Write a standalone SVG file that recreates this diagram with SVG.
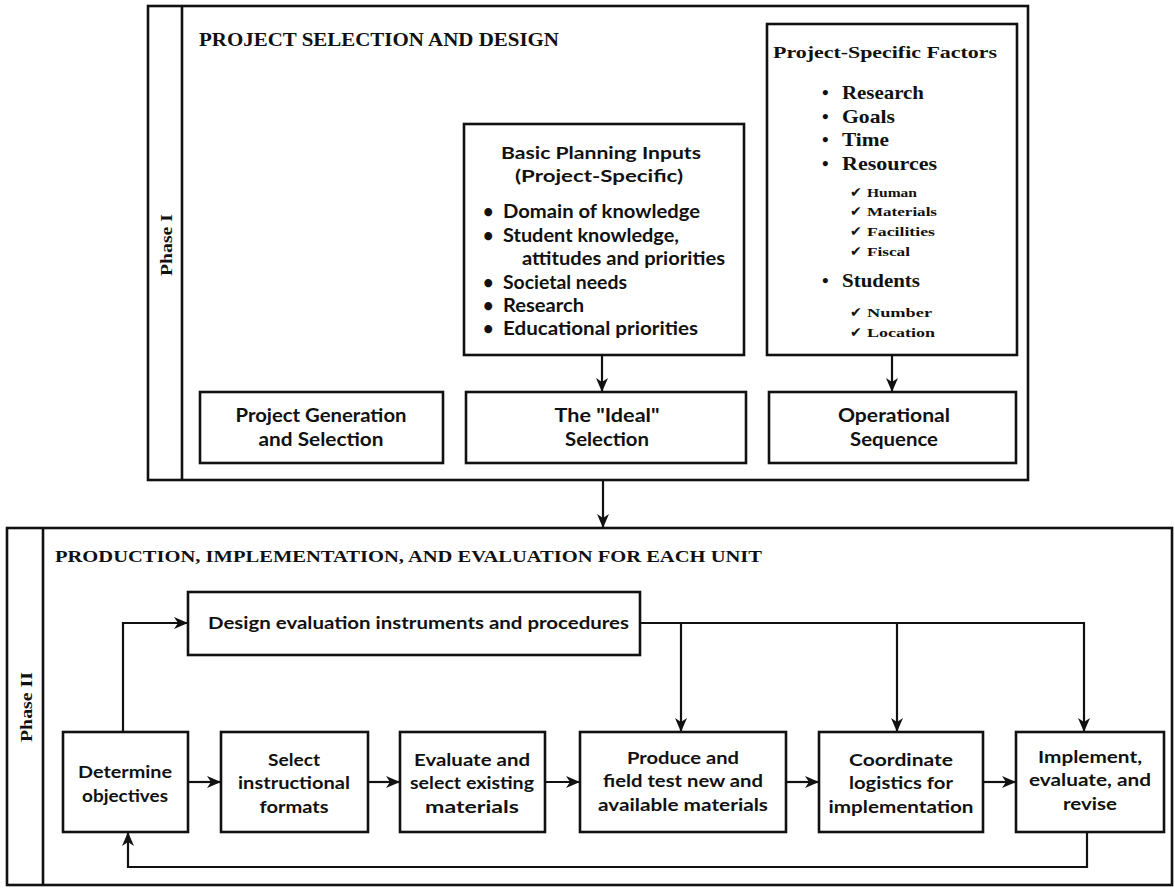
<svg xmlns="http://www.w3.org/2000/svg" width="1175" height="888" viewBox="0 0 1175 888">
<style>
.frame{fill:none;stroke:#111;stroke-width:2.6}
.box{fill:#fff;stroke:#111;stroke-width:2.6}
.con{fill:none;stroke:#111;stroke-width:2.2}
.ser{font-family:"Liberation Serif","Times New Roman",serif;font-weight:bold;fill:#111}
.san{font-family:Lato,"Open Sans","Liberation Sans",sans-serif;font-weight:bold;fill:#111}
.c{text-anchor:middle}
.t{font-size:18px}
.s{font-size:17.5px}
.chk{font-family:"DejaVu Sans",sans-serif;font-size:14px;font-weight:bold;fill:#111}
.sub{font-size:13px}
</style>
<defs>
<marker id="ah" viewBox="0 0 14 12" refX="13" refY="6" markerWidth="14" markerHeight="12" orient="auto" markerUnits="userSpaceOnUse">
<path d="M0,0 L14,6 L0,12 L4,6 z" fill="#111"/>
</marker>
</defs>
<rect width="1175" height="888" fill="#fff"/>

<g id="phase1">
<rect class="frame" x="148" y="6" width="880" height="474"/>
<line class="frame" x1="182" y1="6" x2="182" y2="480"/>
<text class="ser" font-size="17" transform="translate(172,245) rotate(-90)" text-anchor="middle" textLength="62" lengthAdjust="spacingAndGlyphs">Phase I</text>
<text class="ser" x="199" y="46" font-size="19.5" textLength="360" lengthAdjust="spacingAndGlyphs">PROJECT SELECTION AND DESIGN</text>
</g>

<g id="basic-planning-inputs">
<rect class="box" x="464" y="124" width="280" height="231"/>
<text class="san c s" x="601" y="159" textLength="200" lengthAdjust="spacingAndGlyphs">Basic Planning Inputs</text>
<text class="san c s" x="599" y="182" textLength="168" lengthAdjust="spacingAndGlyphs">(Project-Specific)</text>
<g class="san t">
<text x="483" y="218">•</text><text x="503" y="218" textLength="197" lengthAdjust="spacingAndGlyphs">Domain of knowledge</text>
<text x="483" y="242">•</text><text x="503" y="242" textLength="176" lengthAdjust="spacingAndGlyphs">Student knowledge,</text>
<text x="522" y="265" textLength="203" lengthAdjust="spacingAndGlyphs">attitudes and priorities</text>
<text x="483" y="289">•</text><text x="503" y="289" textLength="124" lengthAdjust="spacingAndGlyphs">Societal needs</text>
<text x="483" y="312">•</text><text x="503" y="312" textLength="81" lengthAdjust="spacingAndGlyphs">Research</text>
<text x="483" y="335">•</text><text x="503" y="335" textLength="195" lengthAdjust="spacingAndGlyphs">Educational priorities</text>
</g>
</g>

<g id="project-specific-factors">
<rect class="box" x="767" y="24" width="250" height="331"/>
<text class="ser c" x="885" y="58" font-size="16.5" textLength="224" lengthAdjust="spacingAndGlyphs">Project-Specific Factors</text>
<g class="ser" font-size="19">
<text x="822" y="99">•</text><text x="842" y="99" textLength="82" lengthAdjust="spacingAndGlyphs">Research</text>
<text x="822" y="123">•</text><text x="842" y="123" textLength="53" lengthAdjust="spacingAndGlyphs">Goals</text>
<text x="822" y="146">•</text><text x="842" y="146" textLength="47" lengthAdjust="spacingAndGlyphs">Time</text>
<text x="822" y="170">•</text><text x="842" y="170" textLength="95" lengthAdjust="spacingAndGlyphs">Resources</text>
<text x="822" y="287">•</text><text x="842" y="287" textLength="78" lengthAdjust="spacingAndGlyphs">Students</text>
</g>
<g>
<text class="chk" x="850" y="197">✔</text><text class="ser sub" x="867" y="197" textLength="50" lengthAdjust="spacingAndGlyphs">Human</text>
<text class="chk" x="850" y="216">✔</text><text class="ser sub" x="867" y="216" textLength="70" lengthAdjust="spacingAndGlyphs">Materials</text>
<text class="chk" x="850" y="236">✔</text><text class="ser sub" x="867" y="236" textLength="68" lengthAdjust="spacingAndGlyphs">Facilities</text>
<text class="chk" x="850" y="256">✔</text><text class="ser sub" x="867" y="256" textLength="43" lengthAdjust="spacingAndGlyphs">Fiscal</text>
<text class="chk" x="850" y="317">✔</text><text class="ser sub" x="867" y="317" textLength="65" lengthAdjust="spacingAndGlyphs">Number</text>
<text class="chk" x="850" y="337">✔</text><text class="ser sub" x="867" y="337" textLength="68" lengthAdjust="spacingAndGlyphs">Location</text>
</g>
</g>

<g id="project-generation">
<rect class="box" x="200" y="392" width="243" height="71"/>
<text class="san c t" x="321" y="422" textLength="171" lengthAdjust="spacingAndGlyphs">Project Generation</text>
<text class="san c t" x="321" y="446" textLength="125" lengthAdjust="spacingAndGlyphs">and Selection</text>
</g>

<g id="ideal-selection">
<rect class="box" x="466" y="392" width="280" height="71"/>
<text class="san c t" x="607" y="422" textLength="105" lengthAdjust="spacingAndGlyphs">The "Ideal"</text>
<text class="san c t" x="607" y="446" textLength="84" lengthAdjust="spacingAndGlyphs">Selection</text>
</g>

<g id="operational-sequence">
<rect class="box" x="769" y="392" width="247" height="71"/>
<text class="san c t" x="894" y="422" textLength="112" lengthAdjust="spacingAndGlyphs">Operational</text>
<text class="san c t" x="894" y="446" textLength="88" lengthAdjust="spacingAndGlyphs">Sequence</text>
</g>

<g id="phase2">
<rect class="frame" x="7" y="528" width="1165" height="357"/>
<line class="frame" x1="43" y1="528" x2="43" y2="885"/>
<text class="ser" font-size="17" transform="translate(32,707) rotate(-90)" text-anchor="middle" textLength="70" lengthAdjust="spacingAndGlyphs">Phase II</text>
<text class="ser" x="55" y="562" font-size="17.5" textLength="707" lengthAdjust="spacingAndGlyphs">PRODUCTION, IMPLEMENTATION, AND EVALUATION FOR EACH UNIT</text>
</g>

<g id="design-evaluation">
<rect class="box" x="188" y="592" width="452" height="63"/>
<text class="san s" x="208" y="629" textLength="421" lengthAdjust="spacingAndGlyphs">Design evaluation instruments and procedures</text>
</g>

<g id="determine-objectives">
<rect class="box" x="63" y="732" width="125" height="100"/>
<text class="san c s" x="125" y="778" textLength="94" lengthAdjust="spacingAndGlyphs">Determine</text>
<text class="san c s" x="125" y="802" textLength="86" lengthAdjust="spacingAndGlyphs">objectives</text>
</g>

<g id="select-formats">
<rect class="box" x="221" y="732" width="147" height="100"/>
<text class="san c s" x="294" y="766" textLength="52" lengthAdjust="spacingAndGlyphs">Select</text>
<text class="san c s" x="294" y="789" textLength="112" lengthAdjust="spacingAndGlyphs">instructional</text>
<text class="san c s" x="294" y="813" textLength="69" lengthAdjust="spacingAndGlyphs">formats</text>
</g>

<g id="evaluate-existing">
<rect class="box" x="400" y="732" width="145" height="100"/>
<text class="san c s" x="472" y="766" textLength="116" lengthAdjust="spacingAndGlyphs">Evaluate and</text>
<text class="san c s" x="472" y="789" textLength="124" lengthAdjust="spacingAndGlyphs">select existing</text>
<text class="san c s" x="472" y="813" textLength="94" lengthAdjust="spacingAndGlyphs">materials</text>
</g>

<g id="produce-field-test">
<rect class="box" x="580" y="732" width="206" height="100"/>
<text class="san c s" x="683" y="764" textLength="112" lengthAdjust="spacingAndGlyphs">Produce and</text>
<text class="san c s" x="683" y="787" textLength="160" lengthAdjust="spacingAndGlyphs">field test new and</text>
<text class="san c s" x="683" y="811" textLength="170" lengthAdjust="spacingAndGlyphs">available materials</text>
</g>

<g id="coordinate-logistics">
<rect class="box" x="819" y="732" width="164" height="100"/>
<text class="san c s" x="901" y="766" textLength="104" lengthAdjust="spacingAndGlyphs">Coordinate</text>
<text class="san c s" x="901" y="789" textLength="104" lengthAdjust="spacingAndGlyphs">logistics for</text>
<text class="san c s" x="901" y="813" textLength="145" lengthAdjust="spacingAndGlyphs">implementation</text>
</g>

<g id="implement-evaluate-revise">
<rect class="box" x="1016" y="732" width="148" height="100"/>
<text class="san c s" x="1090" y="763" textLength="104" lengthAdjust="spacingAndGlyphs">Implement,</text>
<text class="san c s" x="1090" y="786" textLength="122" lengthAdjust="spacingAndGlyphs">evaluate, and</text>
<text class="san c s" x="1090" y="810" textLength="54" lengthAdjust="spacingAndGlyphs">revise</text>
</g>

<g id="connectors">
<path class="con" d="M602,355 V391" marker-end="url(#ah)"/>
<path class="con" d="M892,355 V391" marker-end="url(#ah)"/>
<path class="con" d="M603,480 V527" marker-end="url(#ah)"/>
<path class="con" d="M123,732 V623 H187" marker-end="url(#ah)"/>
<path class="con" d="M640,623 H1084"/>
<path class="con" d="M681,623 V731" marker-end="url(#ah)"/>
<path class="con" d="M897,623 V731" marker-end="url(#ah)"/>
<path class="con" d="M1084,622 V731" marker-end="url(#ah)"/>
<path class="con" d="M188,782 H220" marker-end="url(#ah)"/>
<path class="con" d="M368,782 H399" marker-end="url(#ah)"/>
<path class="con" d="M545,782 H579" marker-end="url(#ah)"/>
<path class="con" d="M786,782 H818" marker-end="url(#ah)"/>
<path class="con" d="M983,782 H1015" marker-end="url(#ah)"/>
<path class="con" d="M1087,832 V867 H128 V833" marker-end="url(#ah)"/>
</g>
</svg>
